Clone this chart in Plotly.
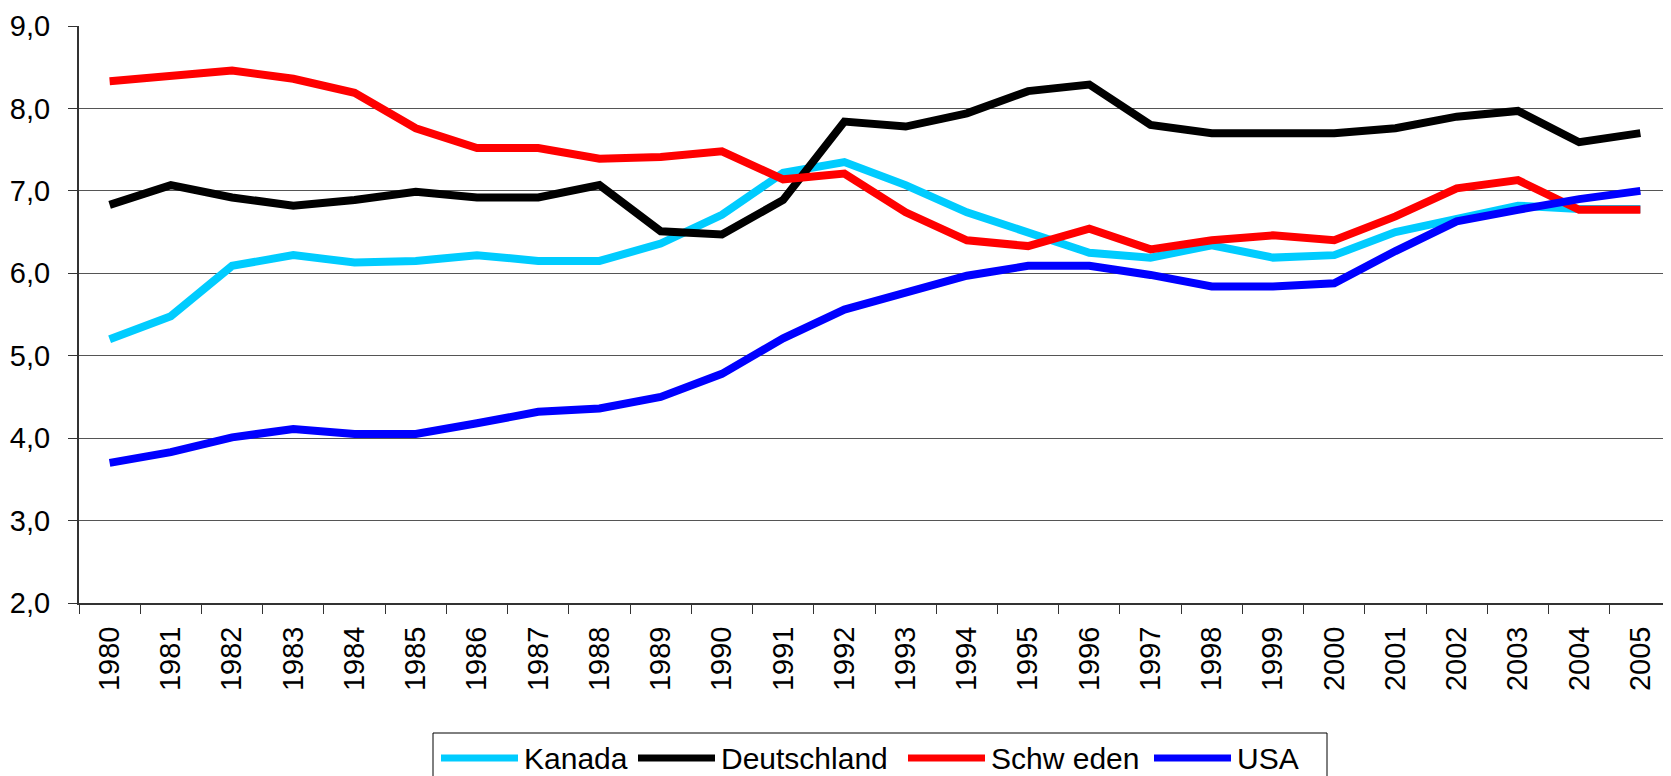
import plotly.graph_objects as go

years = [str(y) for y in range(1980, 2006)]

kanada = [5.20, 5.48, 6.09, 6.22, 6.13, 6.15, 6.22, 6.15, 6.15, 6.36, 6.71, 7.22, 7.35,
          7.07, 6.74, 6.50, 6.25, 6.19, 6.34, 6.19, 6.22, 6.50, 6.65, 6.82, 6.78, 6.78]
deutschland = [6.83, 7.07, 6.92, 6.82, 6.89, 6.99, 6.92, 6.92, 7.07, 6.51, 6.47, 6.89, 7.84,
               7.78, 7.94, 8.21, 8.29, 7.80, 7.70, 7.70, 7.70, 7.76, 7.90, 7.97, 7.59, 7.70]
schweden = [8.33, 8.39, 8.46, 8.36, 8.19, 7.76, 7.52, 7.52, 7.39, 7.41, 7.48, 7.14, 7.21,
            6.74, 6.40, 6.33, 6.54, 6.29, 6.40, 6.46, 6.40, 6.69, 7.03, 7.13, 6.77, 6.77]
usa = [3.70, 3.83, 4.01, 4.11, 4.05, 4.05, 4.18, 4.32, 4.36, 4.50, 4.78, 5.21, 5.56,
       5.76, 5.97, 6.09, 6.09, 5.98, 5.84, 5.84, 5.88, 6.27, 6.63, 6.77, 6.90, 7.00]

names = ["Kanada", "Deutschland", "Schw eden", "USA"]
series = [kanada, deutschland, schweden, usa]
colors = ["#00CCFF", "#000000", "#FF0000", "#0000FF"]

# the html body has an 8px margin, so the figure is a bit smaller than the window
OFF = 8
W, H = 1671 - OFF, 776 - OFF
L, R, T, B = 71, 0, 18, 173
FONT = "Liberation Sans, Arial, sans-serif"

fig = go.Figure()
for name, vals, col in zip(names, series, colors):
    fig.add_trace(go.Scatter(x=years, y=vals, name=name, mode="lines",
                             line=dict(color=col, width=8), showlegend=False))

# Excel-style legend box at the bottom, built from shapes + text (page pixels)
def px_x(p):
    return (p - OFF - L) / (W - L - R)

def px_y(p):
    return (H - B - (p - OFF)) / (H - T - B)

fig.add_shape(type="rect", xref="paper", yref="paper",
              x0=px_x(433), x1=px_x(1327), y0=px_y(733), y1=px_y(800),
              line=dict(color="#000000", width=1), fillcolor="white", layer="below")
slots = [441, 638, 908, 1154]
ly = px_y(758)
for x0, name, col in zip(slots, names, colors):
    fig.add_shape(type="line", xref="paper", yref="paper",
                  x0=px_x(x0), x1=px_x(x0 + 77), y0=ly, y1=ly,
                  line=dict(color=col, width=7))
    fig.add_annotation(text=name, xref="paper", yref="paper", x=px_x(x0 + 82), y=ly,
                       xanchor="left", yanchor="middle", showarrow=False, borderpad=0,
                       font=dict(size=30, color="black", family=FONT))

fig.update_xaxes(type="category", range=[-0.5, len(years) - 0.5],
                 tickson="boundaries", ticks="outside", ticklen=9,
                 tickcolor="#333", tickangle=-90, showgrid=False,
                 showline=True, linecolor="#333", linewidth=2,
                 tickfont=dict(size=29, color="black", family=FONT),
                 ticklabelstandoff=10)
fig.update_yaxes(range=[2, 9], dtick=1, tickformat=".1f", ticks="outside", ticklen=9,
                 tickcolor="#333", showgrid=True, gridcolor="#555", gridwidth=1,
                 showline=True, linecolor="#333", linewidth=2, zeroline=False,
                 tickfont=dict(size=29, color="black", family=FONT),
                 ticklabelstandoff=12)
fig.update_layout(width=W, height=H, margin=dict(l=L, r=R, t=T, b=B),
                  separators=", ", plot_bgcolor="white", paper_bgcolor="white",
                  showlegend=False, font=dict(family=FONT))

fig.write_html("out.html")
